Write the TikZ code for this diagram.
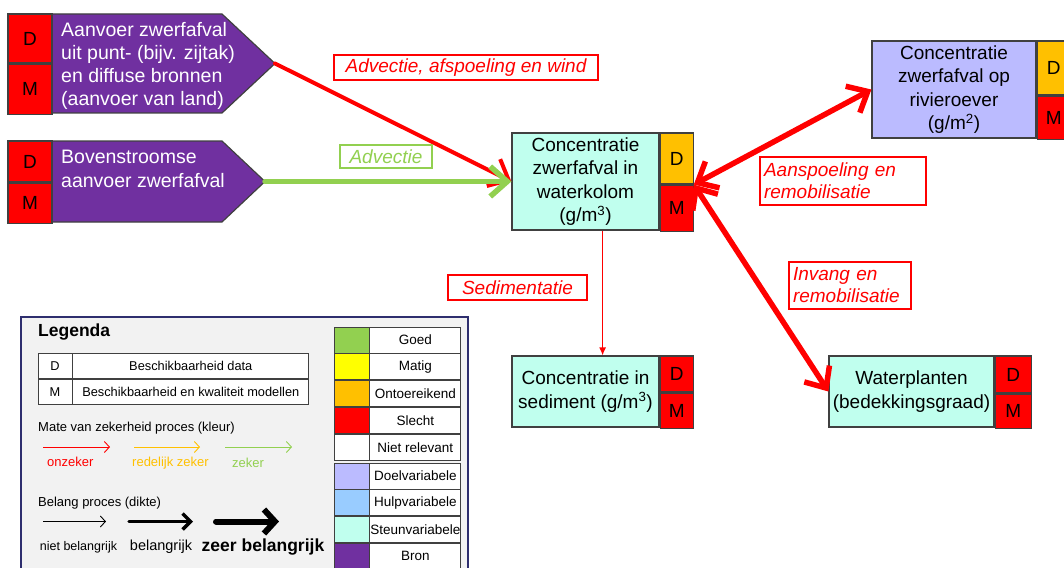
\documentclass[tikz,border=0pt]{standalone}
\usepackage{fontspec}
\setmainfont{Liberation Sans}
\usetikzlibrary{arrows.meta,calc}
\definecolor{goed}{HTML}{92D050}
\definecolor{matig}{HTML}{FFFF00}
\definecolor{ontoereikend}{HTML}{FFC000}
\definecolor{slecht}{HTML}{FF0000}
\definecolor{doelkleur}{HTML}{BBBBFF}
\definecolor{hulpkleur}{HTML}{99CCFF}
\definecolor{steunkleur}{HTML}{C0FFEE}
\definecolor{bronkleur}{HTML}{7030A0}
\definecolor{rand}{HTML}{404040}
\definecolor{legendagrijs}{HTML}{F2F2F2}
\definecolor{legendarand}{HTML}{2E2E6E}
\tikzstyle{variabele}=[draw=rand,line width=1.2pt,inner sep=0pt,align=center,font=\fontsize{19}{23.3}\selectfont]
\tikzstyle{steun}=[variabele,fill=steunkleur]
\tikzstyle{doel}=[variabele,fill=doelkleur]
\tikzstyle{score}=[draw=rand,line width=1.2pt,inner sep=0pt,minimum width=33pt,font=\fontsize{19}{22}\selectfont]
\tikzstyle{bron}=[draw=rand,line width=1.2pt,fill=bronkleur]
\tikzstyle{brontekst}=[inner sep=0pt,align=left,text=white,font=\fontsize{19.5}{23.3}\selectfont]
\tikzstyle{proces}=[draw=slecht,line width=1.2pt,fill=white,inner sep=0pt,text=slecht,font=\fontsize{19}{22}\selectfont\itshape]
\tikzstyle{pijl}=[-{Straight Barb[length=17pt,width=30pt]},line cap=round,line join=round]
\tikzstyle{dubbelpijl}=[{Straight Barb[length=17pt,width=30pt]}-{Straight Barb[length=17pt,width=30pt]},line cap=round,line join=round]
\tikzstyle{legcel}=[draw=rand,line width=0.8pt,fill=white,inner sep=0pt,font=\fontsize{12.8}{14}\selectfont]
\tikzstyle{kleurcel}=[legcel,minimum width=35pt,minimum height=26pt]
\tikzstyle{naamcel}=[legcel,minimum width=91pt,minimum height=26pt,font=\fontsize{13.5}{15}\selectfont]
\tikzstyle{legtekst}=[inner sep=0pt,font=\fontsize{13}{15}\selectfont]
\tikzstyle{legpijl}=[-{Straight Barb[length=5pt,width=11pt]},line width=0.9pt]

\begin{document}
\begin{tikzpicture}[x=1pt,y=-1pt]
\useasboundingbox (0,0) rectangle (1064,567);

% bronnen
\filldraw[bron] (52,14) -- (222,14) -- (275,63.5) -- (222,113) -- (52,113) -- cycle;
\coordinate (bron1punt) at (275,63.5);
\node[brontekst,anchor=west] (bron1) at (61,66) {Aanvoer zwerfafval\\uit punt- (bijv. zijtak)\\en diffuse bronnen\\(aanvoer van land)};
\node[score,fill=slecht,minimum width=44pt,minimum height=49pt] (bron1D) at (30,38.5) {D};
\node[score,fill=slecht,minimum width=44pt,minimum height=50pt,anchor=north] (bron1M) at (bron1D.south) {M};

\filldraw[bron] (52,141) -- (222,141) -- (265,181.5) -- (222,222) -- (52,222) -- cycle;
\coordinate (bron2punt) at (265,181.5);
\node[brontekst,anchor=west] (bron2) at (61,169) {Bovenstroomse\\aanvoer zwerfafval};
\node[score,fill=slecht,minimum width=44pt,minimum height=41pt] (bron2D) at (30,161.5) {D};
\node[score,fill=slecht,minimum width=44pt,minimum height=40pt,anchor=north] (bron2M) at (bron2D.south) {M};

% variabelen
\node[steun,minimum width=147pt,minimum height=97pt] (kolom) at (585.5,181.5) {Concentratie\\zwerfafval in\\waterkolom\\(g/m\textsuperscript{3})};
\node[score,fill=ontoereikend,minimum height=51pt,anchor=north west] (kolomD) at (kolom.north east) {D};
\node[score,fill=slecht,minimum height=46pt,anchor=north west] (kolomM) at (kolomD.south west) {M};

\node[doel,minimum width=164pt,minimum height=97pt] (oever) at (954,89.5) {Concentratie\\zwerfafval op\\rivieroever\\(g/m\textsuperscript{2})};
\node[score,fill=ontoereikend,minimum height=54pt,anchor=north west] (oeverD) at (oever.north east) {D};
\node[score,fill=slecht,minimum height=43pt,anchor=north west] (oeverM) at (oeverD.south west) {M};

\node[steun,minimum width=147pt,minimum height=71pt] (sediment) at (585.5,391.5) {Concentratie in\\sediment (g/m\textsuperscript{3})};
\node[score,fill=slecht,minimum height=36pt,anchor=north west] (sedimentD) at (sediment.north east) {D};
\node[score,fill=slecht,minimum height=35pt,anchor=north west] (sedimentM) at (sedimentD.south west) {M};

\node[steun,minimum width=165pt,minimum height=71pt] (planten) at (911.5,391.5) {Waterplanten\\(bedekkingsgraad)};
\node[score,fill=slecht,minimum width=36pt,minimum height=37pt,anchor=north west] (plantenD) at (planten.north east) {D};
\node[score,fill=slecht,minimum width=36pt,minimum height=34pt,anchor=north west] (plantenM) at (plantenD.south west) {M};

% processen
\draw[pijl,slecht,line width=4pt] (bron1punt) -- (kolom.west);
\draw[pijl,goed,line width=5.5pt] (bron2punt) -- (kolom.west);
\draw[-{Latex[length=8pt,width=7pt]},slecht,line width=1.2pt] ($(kolom.south west)!0.5!(kolomM.south east)$) -- ($(sediment.north west)!0.5!(sedimentD.north east)$);
\draw[dubbelpijl,slecht,line width=5.5pt] (kolomD.south east) -- (oever.west);
\draw[dubbelpijl,slecht,line width=5.5pt] (kolomD.south east) -- (planten.west);

\node[proces,minimum width=264pt,minimum height=25pt] (afspoeling) at (466,67.5) {Advectie, afspoeling en wind};
\node[proces,draw=goed,text=goed,minimum width=92pt,minimum height=23pt] (advectie) at (386,156.5) {Advectie};
\node[proces,minimum width=139pt,minimum height=25pt] (sedimentatie) at (517.5,287.5) {Sedimentatie};
\node[proces,align=left,text width=158pt,inner xsep=4pt,minimum height=48pt] (aanspoeling) at (843,181) {Aanspoeling en\\remobilisatie};
\node[proces,align=left,text width=114pt,inner xsep=4pt,minimum height=47pt] (invang) at (850,285.5) {Invang en\\remobilisatie};

% legenda
\filldraw[fill=legendagrijs,draw=legendarand,line width=1.2pt] (21,317) rectangle (468,580);
\node[inner sep=0pt,anchor=west,font=\fontsize{17.5}{19}\selectfont\bfseries] (legenda) at (38,332) {Legenda};

\node[legcel,minimum width=34pt,minimum height=25.5pt] (legD) at (55,365.75) {D};
\node[legcel,minimum width=236pt,minimum height=25.5pt,anchor=west] (legDtekst) at (legD.east) {Beschikbaarheid data};
\node[legcel,minimum width=34pt,minimum height=25.5pt,anchor=north] (legM) at (legD.south) {M};
\node[legcel,minimum width=236pt,minimum height=25.5pt,anchor=west] (legMtekst) at (legM.east) {Beschikbaarheid en kwaliteit modellen};

\node[legtekst,anchor=west] (zekerheid) at (38,428) {Mate van zekerheid proces (kleur)};
\coordinate (rood1) at (43,447);
\coordinate (rood2) at (110,447);
\coordinate (oranje1) at (134,447);
\coordinate (oranje2) at (200,447);
\coordinate (groen1) at (225,447);
\coordinate (groen2) at (292,447);
\draw[legpijl,slecht] (rood1) -- (rood2);
\draw[legpijl,ontoereikend] (oranje1) -- (oranje2);
\draw[legpijl,goed] (groen1) -- (groen2);
\node[legtekst,anchor=west,text=slecht] (onzeker) at (47,462) {onzeker};
\node[legtekst,anchor=west,text=ontoereikend] (redelijk) at (132,463) {redelijk zeker};
\node[legtekst,anchor=west,text=goed] (zeker) at (232,463) {zeker};

\node[legtekst,anchor=west] (belang) at (38,503) {Belang proces (dikte)};
\coordinate (dun1) at (43,521.5);
\coordinate (dun2) at (106,521.5);
\coordinate (middel1) at (129,521.5);
\coordinate (middel2) at (193,521.5);
\coordinate (dik1) at (216,521.5);
\coordinate (dik2) at (279,521.5);
\draw[legpijl] (dun1) -- (dun2);
\draw[-{Straight Barb[length=8pt,width=16pt]},line width=3.5pt,line cap=round,line join=round] (middel1) -- (middel2);
\draw[-{Straight Barb[length=11pt,width=24pt]},line width=6pt,line cap=round,line join=round] (dik1) -- (dik2);
\node[inner sep=0pt,font=\fontsize{12.5}{14}\selectfont] (nietbelangrijk) at (78.5,547) {niet belangrijk};
\node[inner sep=0pt,font=\fontsize{14.5}{16}\selectfont] (belangrijk) at (161,547) {belangrijk};
\node[inner sep=0pt,font=\fontsize{17.5}{19}\selectfont\bfseries] (zeerbelangrijk) at (263,547) {zeer belangrijk};

\node[kleurcel,fill=goed] (goedK) at (351.5,340) {};
\node[naamcel,anchor=west] (goedN) at (goedK.east) {Goed};
\node[kleurcel,fill=matig,anchor=north] (matigK) at (goedK.south) {};
\node[naamcel,anchor=west] (matigN) at (matigK.east) {Matig};
\node[kleurcel,fill=ontoereikend,anchor=north] (ontoerK) at (matigK.south) {};
\node[naamcel,anchor=west] (ontoerN) at (ontoerK.east) {Ontoereikend};
\node[kleurcel,fill=slecht,anchor=north] (slechtK) at (ontoerK.south) {};
\node[naamcel,anchor=west] (slechtN) at (slechtK.east) {Slecht};
\node[kleurcel,anchor=north] (nietK) at (slechtK.south) {};
\node[naamcel,anchor=west] (nietN) at (nietK.east) {Niet relevant};

\node[kleurcel,fill=doelkleur] (doelK) at (351.5,476) {};
\node[naamcel,anchor=west] (doelN) at (doelK.east) {Doelvariabele};
\node[kleurcel,fill=hulpkleur,anchor=north] (hulpK) at (doelK.south) {};
\node[naamcel,anchor=west] (hulpN) at (hulpK.east) {Hulpvariabele};
\node[kleurcel,fill=steunkleur,anchor=north] (steunK) at (hulpK.south) {};
\node[naamcel,anchor=west] (steunN) at (steunK.east) {Steunvariabele};
\node[kleurcel,fill=bronkleur,anchor=north] (bronK) at (steunK.south) {};
\node[naamcel,anchor=west] (bronN) at (bronK.east) {Bron};
\end{tikzpicture}
\end{document}
